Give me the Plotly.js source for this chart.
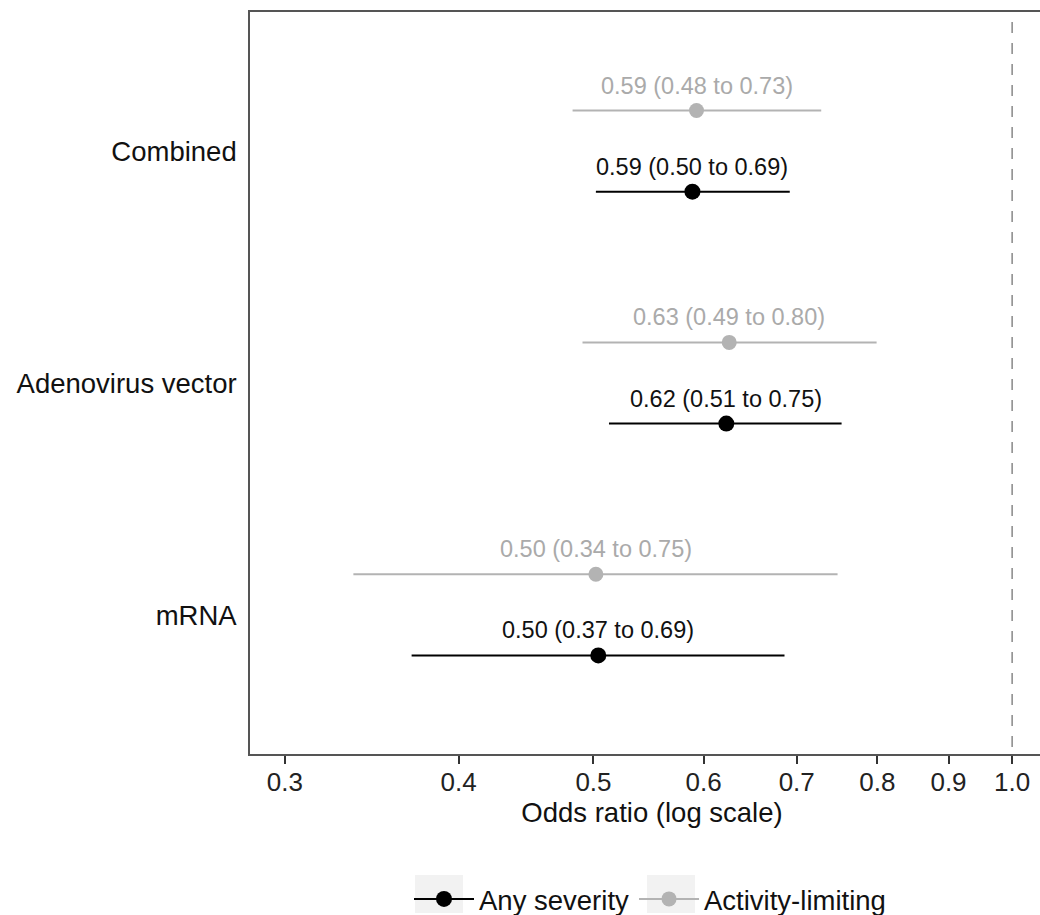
<!DOCTYPE html>
<html><head><meta charset="utf-8">
<script src="https://cdn.plot.ly/plotly-3.0.1.min.js"></script>
<style>html,body{margin:0;padding:0;background:#fff;overflow:hidden}</style>
</head><body><div id="chart" style="width:1054px;height:915px"></div>
<script>
// ---- data ----
const categories = ["mRNA", "Adenovirus vector", "Combined"];
const seriesNames = ["Any severity", "Activity-limiting"];
const anyOR = [0.504, 0.623, 0.589];
const anyLo = [0.370, 0.513, 0.502];
const anyHi = [0.686, 0.754, 0.692];
const actOR = [0.502, 0.626, 0.593];
const actLo = [0.336, 0.491, 0.483];
const actHi = [0.749, 0.799, 0.729];
const xTickVals = [0.3, 0.4, 0.5, 0.6, 0.7, 0.8, 0.9, 1.0];
const xTickText = ["0.3", "0.4", "0.5", "0.6", "0.7", "0.8", "0.9", "1.0"];
const nullValue = 1;

// ---- styling ----
const FONT = "Liberation Sans, Arial, Helvetica, sans-serif";
const series = [
  {name: seriesNames[0], or: anyOR, lo: anyLo, hi: anyHi, color: "#000000", txt: "#111111", size: 16, dy: -0.175},
  {name: seriesNames[1], or: actOR, lo: actLo, hi: actHi, color: "#b3b3b3", txt: "#aaaaaa", size: 15, dy: 0.175}
];
const fmt = v => v.toFixed(2);

const traces = [];
const annotations = [];
series.forEach(s => {
  const cx = [], cy = [], px = [], py = [];
  categories.forEach((c, i) => {
    const y = i + 1 + s.dy;
    cx.push(s.lo[i], s.hi[i], null); cy.push(y, y, null);
    if (i > 0) { px.push(null); py.push(null); }
    px.push(s.or[i]); py.push(y);
    annotations.push({
      x: Math.log10(s.or[i]), y: y, xref: "x", yref: "y",
      text: fmt(s.or[i]) + " (" + fmt(s.lo[i]) + " to " + fmt(s.hi[i]) + ")",
      showarrow: false, yshift: 25, yanchor: "middle",
      font: {family: FONT, size: 23.5, color: s.txt}
    });
  });
  traces.push({x: cx, y: cy, type: "scatter", mode: "lines", showlegend: false, hoverinfo: "skip",
    line: {color: s.color, width: 2}});
  traces.push({x: px, y: py, type: "scatter", mode: "lines+markers", name: s.name, connectgaps: false,
    line: {color: s.color, width: 2}, marker: {color: s.color, size: s.size}});
});
// reference line at OR = 1
traces.unshift({x: [nullValue, nullValue], y: [3.6, 0.4], type: "scatter", mode: "lines", showlegend: false,
  hoverinfo: "skip", line: {color: "#888888", width: 1.5, dash: "0px,10px,11px,0px"}});

const W = 1054, H = 915, L = 250, PW = W - L;
const px2paperX = p => (p - L) / PW;
const px2paperY = p => (754 - p) / 742;
const keyBox = (x0, x1) => ({type: "rect", xref: "paper", yref: "paper", layer: "below",
  x0: px2paperX(x0), x1: px2paperX(x1), y0: px2paperY(913), y1: px2paperY(875),
  fillcolor: "#f2f2f2", line: {width: 0}});

const layout = {
  width: W, height: H,
  margin: {l: L, r: 0, t: 12, b: 161},
  paper_bgcolor: "#ffffff", plot_bgcolor: "#ffffff",
  font: {family: FONT, color: "#111111"},
  showlegend: true,
  legend: {orientation: "h", xref: "container", yref: "container", xanchor: "left", yanchor: "middle",
    x: 409 / W, y: (H - 899) / H, font: {family: FONT, size: 27.5, color: "#111111"},
    bgcolor: "rgba(0,0,0,0)", itemwidth: 60},
  xaxis: {type: "log", range: [-0.548, 0.0301], tickvals: xTickVals, ticktext: xTickText,
    ticks: "outside", ticklen: 8, tickwidth: 2, tickcolor: "#333333", ticklabelstandoff: -4,
    showgrid: false, zeroline: false, showline: true, mirror: true, linecolor: "#555555", linewidth: 1.8,
    tickfont: {family: FONT, size: 26, color: "#222222"},
    title: {text: "Odds ratio (log scale)", standoff: 6, font: {family: FONT, size: 27.5, color: "#111111"}}},
  yaxis: {range: [0.4, 3.6], tickvals: [1, 2, 3], ticktext: categories, ticks: "",
    ticklabelstandoff: 6,
    showgrid: false, zeroline: false, showline: true, mirror: true, linecolor: "#555555", linewidth: 1.8,
    tickfont: {family: FONT, size: 27.5, color: "#111111"}},
  shapes: [keyBox(415, 463), keyBox(647, 695)],
  annotations: annotations
};
Plotly.newPlot("chart", traces, layout, {displayModeBar: false, staticPlot: true});
</script></body></html>
